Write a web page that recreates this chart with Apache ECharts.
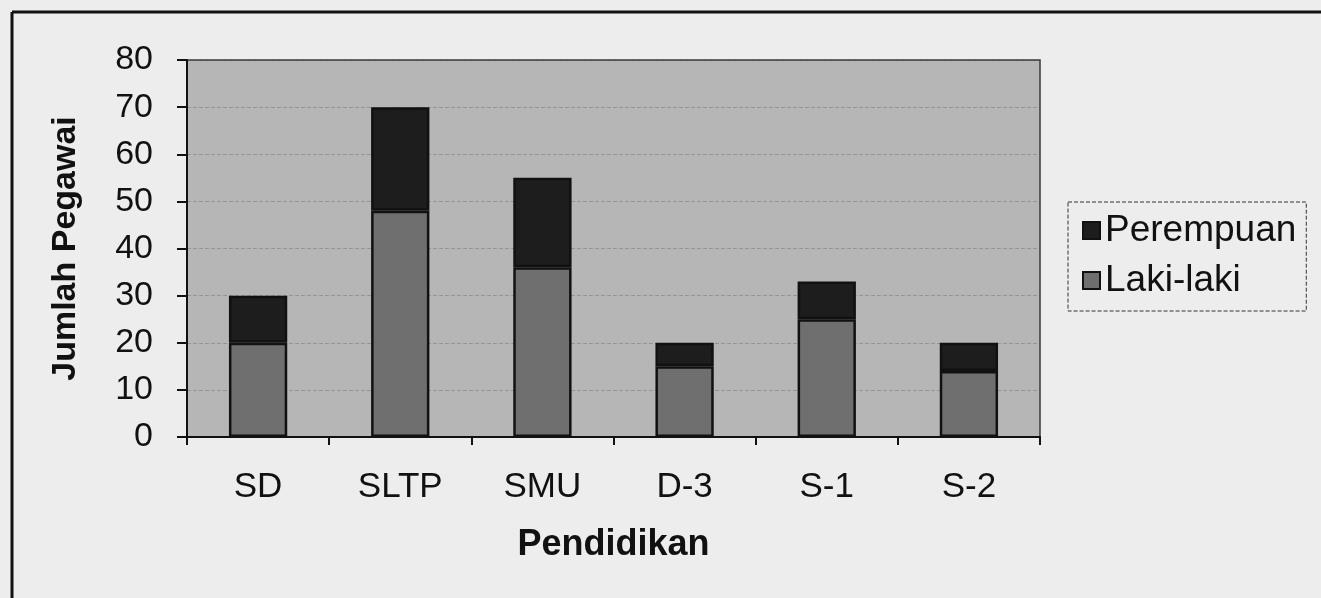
<!DOCTYPE html>
<html>
<head>
<meta charset="utf-8">
<script src="https://cdn.jsdelivr.net/npm/echarts@6/dist/echarts.min.js"></script>
<style>
  html, body { margin: 0; padding: 0; background: #ededed; }
  #chart { width: 1321px; height: 598px; }
</style>
</head>
<body>
<div id="chart"></div>
<script>
const categories = ['SD', 'SLTP', 'SMU', 'D-3', 'S-1', 'S-2'];
const lakiLaki = [20, 48, 36, 15, 25, 14];
const perempuan = [10, 22, 19, 5, 8, 6];
const yTicks = { min: 0, max: 80, interval: 10 };

const chart = echarts.init(document.getElementById('chart'));
const font = '"Liberation Sans", Arial, sans-serif';

chart.setOption({
  backgroundColor: '#ededed',
  animation: false,
  graphic: [
    { type: 'line', shape: { x1: 12, y1: 12, x2: 1321, y2: 12 }, style: { stroke: '#111', lineWidth: 3 }, z: 100 },
    { type: 'line', shape: { x1: 12, y1: 12, x2: 12, y2: 598 }, style: { stroke: '#111', lineWidth: 3 }, z: 100 }
  ],
  grid: {
    left: 187, right: 281, top: 60, bottom: 161,
    show: true, backgroundColor: '#b6b6b6', borderColor: '#3a3a3a', borderWidth: 1.5
  },
  legend: {
    orient: 'vertical',
    left: 1068, top: 202,
    padding: [10, 10, 12, 14],
    itemGap: 13,
    itemWidth: 17, itemHeight: 17,
    icon: 'rect',
    borderColor: '#333', borderWidth: 1, borderType: 'dashed',
    textStyle: { fontFamily: font, fontSize: 37, color: '#111' },
    data: ['Perempuan', 'Laki-laki']
  },
  xAxis: {
    type: 'category',
    data: categories,
    name: 'Pendidikan',
    nameLocation: 'middle',
    nameGap: 90,
    nameTextStyle: { fontFamily: font, fontSize: 36, fontWeight: 'bold', color: '#111' },
    axisLine: { lineStyle: { color: '#111', width: 2 } },
    axisTick: { show: true, length: 8, lineStyle: { color: '#111', width: 2 } },
    axisLabel: { margin: 33, fontFamily: font, fontSize: 35, color: '#111' }
  },
  yAxis: {
    type: 'value',
    min: yTicks.min, max: yTicks.max, interval: yTicks.interval,
    name: 'Jumlah Pegawai',
    nameLocation: 'middle',
    nameGap: 104,
    nameRotate: 90,
    nameTextStyle: { fontFamily: font, fontSize: 34, fontWeight: 'bold', color: '#111' },
    axisLine: { show: true, lineStyle: { color: '#111', width: 2 } },
    axisTick: { show: true, length: 10, lineStyle: { color: '#111', width: 2 } },
    axisLabel: { margin: 34, fontFamily: font, fontSize: 34, color: '#111' },
    splitLine: { show: true, lineStyle: { color: 'rgba(70,70,70,0.3)', type: 'dashed', width: 1 } }
  },
  series: [
    {
      name: 'Laki-laki', type: 'bar', stack: 'total', barWidth: '41%',
      data: lakiLaki,
      itemStyle: { color: '#6f6f6f', borderColor: '#111', borderWidth: 2.5 }
    },
    {
      name: 'Perempuan', type: 'bar', stack: 'total', barWidth: '41%',
      data: perempuan,
      itemStyle: { color: '#1d1d1d', borderColor: '#111', borderWidth: 2.5 }
    }
  ]
});
</script>
</body>
</html>
